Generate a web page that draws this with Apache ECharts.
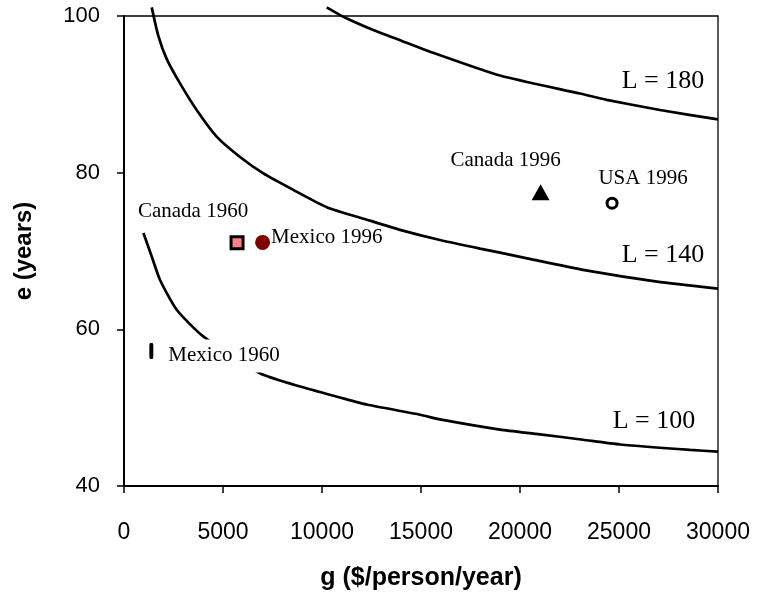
<!DOCTYPE html>
<html>
<head>
<meta charset="utf-8">
<script src="https://cdn.jsdelivr.net/npm/echarts@6/dist/echarts.min.js"></script>
<style>
  html, body { margin: 0; padding: 0; background: #fff; }
  #chart { width: 757px; height: 594px; }
</style>
</head>
<body>
<div id="chart"></div>
<script>
// iso-L curves: [g, e]
const curve180 = [[10240, 101.1], [11080, 99.9], [12590, 98.2], [13940, 96.9], [15290, 95.6], [18990, 92.4], [23030, 90.1], [24380, 89.3], [27070, 88.0], [30000, 86.8]]
const curve140 = [[1400, 101.1], [1730, 97.5], [2160, 94.5], [2830, 91.4], [3670, 88.0], [4680, 84.6], [5860, 82.0], [7040, 79.9], [8550, 77.8], [10240, 75.6], [12260, 74.0], [13940, 72.7], [15960, 71.4], [17980, 70.3], [18990, 69.8], [20660, 68.9], [23180, 67.6], [26920, 66.1], [30000, 65.2]]
const curve100 = [[980, 72.3], [1400, 69.3], [1820, 66.3], [2660, 62.5], [4000, 59.1], [6870, 54.4], [8890, 52.7], [10910, 51.3], [12260, 50.4], [14950, 49.1], [15960, 48.5], [18990, 47.2], [21010, 46.6], [23180, 45.9], [25050, 45.3], [28590, 44.6], [30000, 44.4]]
const curveNames = ['L = 180', 'L = 140', 'L = 100']

// countries
const canada1960 = [5710, 71.05]
const mexico1996 = [7000, 71.1]
const canada1996 = [21040, 77.5]
const usa1996 = [24650, 76.1]
const mexico1960 = [1380, 57.25]

const xTicks = { min: 0, max: 30000, interval: 5000 }
const yTicks = { min: 40, max: 100, interval: 20 }

const serif = '"Liberation Serif", "Times New Roman", serif'
const sans = '"Liberation Sans", Arial, sans-serif'

const chart = echarts.init(document.getElementById('chart'))

function curveSeries(data) {
  return {
    type: 'line',
    data: data,
    showSymbol: false,
    smooth: 0.2,
    clip: false,
    silent: true,
    lineStyle: { color: '#000', width: 2.7 },
    z: 2,
  }
}

// label anchored at the end of each curve
function curveLabel(data, text, offset) {
  return {
    type: 'scatter',
    data: [data[data.length - 1]],
    symbolSize: 0,
    silent: true,
    itemStyle: { opacity: 1 },
    label: {
      show: true,
      position: 'inside',
      formatter: text,
      offset: offset,
      color: '#000',
      fontFamily: serif,
      fontSize: 26,
    },
  }
}

function pointSeries(point, symbol, size, itemStyle, text, label) {
  return {
    type: 'scatter',
    data: [point],
    symbol: symbol,
    symbolSize: size,
    itemStyle: Object.assign({ opacity: 1 }, itemStyle),
    silent: true,
    z: 4,
    label: Object.assign({
      show: true,
      formatter: text,
      color: '#000',
      fontFamily: serif,
      fontSize: 21,
    }, label),
  }
}

const options = {
  animation: false,
  grid: {
    left: 124,
    right: 39,
    top: 16,
    bottom: 108,
    outerBoundsMode: 'none',
    containLabel: false,
    show: true,
    borderColor: '#000',
    borderWidth: 1.3,
  },
  xAxis: {
    type: 'value',
    min: xTicks.min,
    max: xTicks.max,
    interval: xTicks.interval,
    name: 'g ($/person/year)',
    nameLocation: 'middle',
    nameGap: 80,
    nameTextStyle: { color: '#000', fontFamily: sans, fontWeight: 'bold', fontSize: 25 },
    splitLine: { show: false },
    axisLine: { lineStyle: { color: '#000', width: 2 } },
    axisTick: { length: 7, lineStyle: { color: '#000', width: 1.5 } },
    axisLabel: { margin: 35, color: '#000', fontFamily: sans, fontSize: 23, formatter: (v) => String(v) },
  },
  yAxis: {
    type: 'value',
    min: yTicks.min,
    max: yTicks.max,
    interval: yTicks.interval,
    name: 'e (years)',
    nameLocation: 'middle',
    nameGap: 88,
    nameTextStyle: { color: '#000', fontFamily: sans, fontWeight: 'bold', fontSize: 24 },
    splitLine: { show: false },
    axisLine: { show: true, lineStyle: { color: '#000', width: 2 } },
    axisTick: { show: true, length: 7, lineStyle: { color: '#000', width: 1.5 } },
    axisLabel: { margin: 24, color: '#000', fontFamily: sans, fontSize: 22 },
  },
  series: [
    curveSeries(curve180),
    curveSeries(curve140),
    curveSeries(curve100),
    curveLabel(curve180, curveNames[0], [-55, -38]),
    curveLabel(curve140, curveNames[1], [-55, -33]),
    curveLabel(curve100, curveNames[2], [-64, -30]),
    pointSeries(canada1960, 'rect', 12, { color: '#ff8080', borderColor: '#000', borderWidth: 3 },
      'Canada 1960', { position: 'inside', offset: [-44, -31] }),
    pointSeries(mexico1996, 'circle', 15, { color: '#800000' },
      'Mexico 1996', { position: 'right', distance: 1, offset: [0, -5] }),
    pointSeries(canada1996, 'triangle', [18, 16], { color: '#000' },
      'Canada 1996', { position: 'inside', offset: [-35, -32] }),
    pointSeries(usa1996, 'circle', 10, { color: '#fff', borderColor: '#000', borderWidth: 3 },
      'USA 1996', { position: 'inside', offset: [31, -25] }),
    pointSeries(mexico1960, 'roundRect', [4, 16], { color: '#000' },
      'Mexico 1960', { position: 'right', distance: 11, offset: [0, 5], backgroundColor: '#fff', padding: [7, 5, 5, 4] }),
  ],
}

chart.setOption(options, true)
</script>
</body>
</html>
